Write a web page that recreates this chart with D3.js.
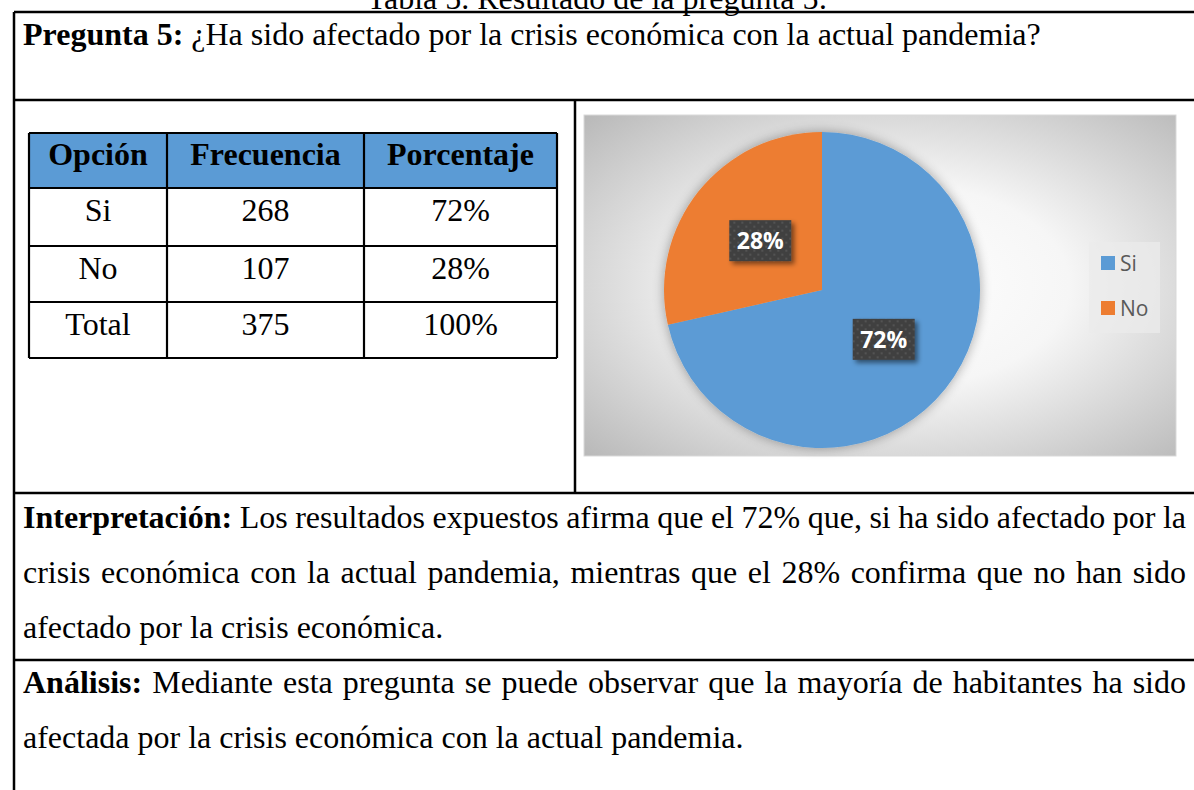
<!DOCTYPE html>
<html><head><meta charset="utf-8">
<script src="https://cdn.jsdelivr.net/npm/d3@7"></script>
<style>body{margin:0;background:#fff}svg{display:block}</style>
</head><body><svg id="c" width="1194" height="790"></svg>
<script>
// ---- data ----
const caption = "Tabla 5. Resultado de la pregunta 5:";
const questionLabel = "Pregunta 5:";
const questionText = " ¿Ha sido afectado por la crisis económica con la actual pandemia?";
const tableHeaders = ["Opción", "Frecuencia", "Porcentaje"];
const categories = ["Si", "No"];
const frequencies = [268, 107];
const percentLabels = ["72%", "28%"];
const totalRow = ["Total", "375", "100%"];
const sliceColors = ["#5B9BD5", "#ED7D31"];
const interpLabel = "Interpretación:";
const interpLines = [
  " Los resultados expuestos afirma que el 72% que, si ha sido afectado por la",
  "crisis económica con la actual pandemia, mientras que el 28% confirma que no han sido",
  "afectado por la crisis económica."
];
const analysisLabel = "Análisis:";
const analysisLines = [
  " Mediante esta pregunta se puede observar que la mayoría de habitantes ha sido",
  "afectada por la crisis económica con la actual pandemia."
];

// ---- drawing ----
const svg = d3.select("#c");
const serif = "'Liberation Serif','Times New Roman',serif";
const sans = "'Open Sans','Noto Sans',sans-serif";
const FS = 32;
const defs = svg.append("defs");

const grad = defs.append("radialGradient").attr("id", "bg").attr("cx", 0.52).attr("cy", 0.5).attr("r", 0.75);
grad.append("stop").attr("offset", 0).attr("stop-color", "#ffffff");
grad.append("stop").attr("offset", 0.4).attr("stop-color", "#f6f6f6");
grad.append("stop").attr("offset", 1).attr("stop-color", "#b4b4b4");

const glow = defs.append("filter").attr("id", "glow").attr("x", "-20%").attr("y", "-20%").attr("width", "140%").attr("height", "140%");
glow.append("feGaussianBlur").attr("in", "SourceAlpha").attr("stdDeviation", 6).attr("result", "b");
glow.append("feComponentTransfer").attr("in", "b").attr("result", "b2")
  .append("feFuncA").attr("type", "linear").attr("slope", 0.35);
const gm = glow.append("feMerge");
gm.append("feMergeNode").attr("in", "b2");
gm.append("feMergeNode").attr("in", "SourceGraphic");

const shadow = defs.append("filter").attr("id", "lshadow").attr("x", "-30%").attr("y", "-30%").attr("width", "170%").attr("height", "170%");
shadow.append("feGaussianBlur").attr("in", "SourceAlpha").attr("stdDeviation", 2.5).attr("result", "b");
shadow.append("feOffset").attr("in", "b").attr("dx", 3).attr("dy", 3).attr("result", "o");
shadow.append("feComponentTransfer").attr("in", "o").attr("result", "o2")
  .append("feFuncA").attr("type", "linear").attr("slope", 0.5);
const sm = shadow.append("feMerge");
sm.append("feMergeNode").attr("in", "o2");
sm.append("feMergeNode").attr("in", "SourceGraphic");

const pat = defs.append("pattern").attr("id", "dots").attr("width", 8).attr("height", 8).attr("patternUnits", "userSpaceOnUse");
pat.append("rect").attr("width", 8).attr("height", 8).attr("fill", "#404040");
pat.append("circle").attr("cx", 2).attr("cy", 2).attr("r", 0.9).attr("fill", "#5c5c5c");
pat.append("circle").attr("cx", 6).attr("cy", 6).attr("r", 0.9).attr("fill", "#5c5c5c");

// caption (clipped at top, as in the reference)
svg.append("text").attr("x", 597).attr("y", 9).attr("text-anchor", "middle")
  .attr("font-family", serif).attr("font-size", FS).attr("fill", "#000").text(caption);

// frame lines
const lines = svg.append("g").attr("stroke", "#000").attr("stroke-width", 2.5);
lines.append("line").attr("x1", 14).attr("x2", 14).attr("y1", 12).attr("y2", 790);
lines.append("line").attr("x1", 14).attr("x2", 1194).attr("y1", 12).attr("y2", 12);
lines.append("line").attr("x1", 14).attr("x2", 1194).attr("y1", 100).attr("y2", 100);
lines.append("line").attr("x1", 575).attr("x2", 575).attr("y1", 100).attr("y2", 493);
lines.append("line").attr("x1", 14).attr("x2", 1194).attr("y1", 493).attr("y2", 493);
lines.append("line").attr("x1", 14).attr("x2", 1194).attr("y1", 660).attr("y2", 660);

// question
const q = svg.append("text").attr("x", 23).attr("y", 45).attr("font-family", serif).attr("font-size", FS).attr("fill", "#000").style("white-space", "pre");
q.append("tspan").attr("font-weight", "bold").text(questionLabel);
q.append("tspan").text(questionText);

// table
const colEdges = [29, 167, 364, 557];
const rowEdges = [133, 188, 246, 302, 358];
const rows = [tableHeaders].concat(categories.map((c, i) => [c, String(frequencies[i]), percentLabels[i]]), [totalRow]);
const tg = svg.append("g");
tg.append("rect").attr("x", colEdges[0]).attr("y", rowEdges[0])
  .attr("width", colEdges[3] - colEdges[0]).attr("height", rowEdges[1] - rowEdges[0]).attr("fill", "#5B9BD5");
rows.forEach((r, ri) => {
  r.forEach((cell, ci) => {
    tg.append("text")
      .attr("x", (colEdges[ci] + colEdges[ci + 1]) / 2)
      .attr("y", ri === 0 ? rowEdges[0] + 32 : rowEdges[ri] + 33)
      .attr("text-anchor", "middle").attr("font-family", serif).attr("font-size", FS)
      .attr("font-weight", ri === 0 ? "bold" : "normal").attr("fill", "#000").text(cell);
  });
});
const tl = tg.append("g").attr("stroke", "#000").attr("stroke-width", 2.2);
rowEdges.forEach(y => tl.append("line").attr("x1", colEdges[0]).attr("x2", colEdges[3]).attr("y1", y).attr("y2", y));
colEdges.forEach(x => tl.append("line").attr("x1", x).attr("x2", x).attr("y1", rowEdges[0]).attr("y2", rowEdges[4]));

// chart area
const box = {x: 584, y: 115, w: 592, h: 341};
svg.append("rect").attr("x", box.x).attr("y", box.y).attr("width", box.w).attr("height", box.h)
  .attr("fill", "url(#bg)").attr("stroke", "#d9d9d9").attr("stroke-width", 1);

const cx = 822, cy = 290, R = 158;
const pie = d3.pie().sort(null).value(d => d)(frequencies);
const arc = d3.arc().innerRadius(0).outerRadius(R);
const pg = svg.append("g").attr("transform", `translate(${cx},${cy})`);
pg.append("g").attr("filter", "url(#glow)").selectAll("path").data(pie).join("path")
  .attr("d", arc).attr("fill", (d, i) => sliceColors[i]);

const labW = 62, labH = 41;
const lg = pg.selectAll("g.lab").data(pie).join("g").attr("class", "lab")
  .attr("transform", d => { const c = arc.centroid(d); return `translate(${c[0]},${c[1]})`; });
lg.append("rect").attr("x", -labW / 2).attr("y", -labH / 2).attr("width", labW).attr("height", labH)
  .attr("fill", "url(#dots)").attr("filter", "url(#lshadow)");
lg.append("text").attr("text-anchor", "middle").attr("dy", "0.36em")
  .attr("font-family", sans).attr("font-weight", "bold").attr("font-size", 23).attr("fill", "#fff")
  .text((d, i) => percentLabels[i]);

// legend
const leg = svg.append("g");
leg.append("rect").attr("x", 1089).attr("y", 242).attr("width", 71).attr("height", 91).attr("fill", "#ebebeb").attr("opacity", 0.75);
const legY = d3.scalePoint().domain(categories).range([263, 308]);
const li = leg.selectAll("g.li").data(categories).join("g").attr("class", "li")
  .attr("transform", d => `translate(1101,${legY(d)})`);
li.append("rect").attr("x", 0).attr("y", -7).attr("width", 14).attr("height", 14).attr("fill", (d, i) => sliceColors[i]);
li.append("text").attr("x", 19).attr("y", 7.5).attr("font-family", sans).attr("font-size", 21).attr("fill", "#595959").text(d => d);

// paragraphs with justification
function para(label, lns, y0, justifyCount) {
  lns.forEach((ln, i) => {
    const t = svg.append("text").attr("x", 23).attr("y", y0 + i * 55).attr("font-family", serif)
      .attr("font-size", FS).attr("fill", "#000").style("white-space", "pre");
    if (i === 0) t.append("tspan").attr("font-weight", "bold").text(label);
    t.append("tspan").text(ln);
    if (i < justifyCount) {
      const w = t.node().getComputedTextLength();
      const full = (i === 0 ? label : "") + ln;
      const n = (full.trim().match(/ /g) || []).length;
      const extra = (1186 - 23 - w) / n;
      t.attr("word-spacing", extra);
    }
  });
}
para(interpLabel, interpLines, 528, 2);
para(analysisLabel, analysisLines, 693, 1);
</script></body></html>
